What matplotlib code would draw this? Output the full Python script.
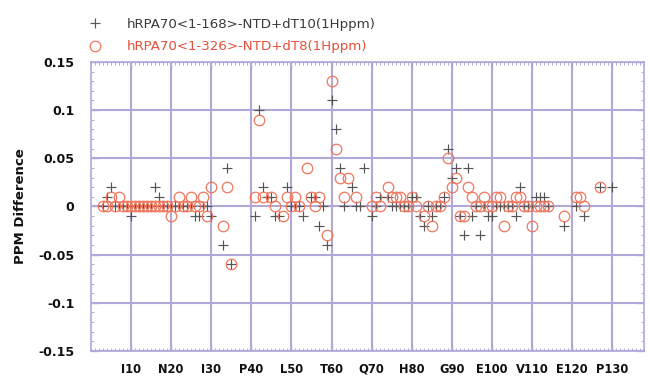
import matplotlib
matplotlib.use("Agg")
import matplotlib.pyplot as plt
from matplotlib.ticker import MultipleLocator

# hRPA70<1-168>-NTD + dT10 (crosses)
residue_a = [3, 4, 5, 6, 7, 8, 9, 10, 11, 12, 13, 14, 15, 16, 17, 18, 19, 20,
             21, 22, 23, 24, 25, 26, 27, 28, 29, 30, 33, 34, 35, 41, 42, 43,
             44, 45, 46, 47, 49, 50, 51, 52, 53, 55, 56, 57, 58, 59, 60, 61,
             62, 63, 65, 66, 67, 68, 70, 71, 72, 74, 75, 76, 77, 78, 79, 80,
             81, 82, 83, 84, 85, 86, 87, 88, 89, 90, 91, 92, 93, 94, 95, 96,
             97, 98, 99, 100, 101, 102, 103, 104, 105, 106, 107, 108, 109,
             110, 111, 112, 113, 114, 118, 121, 123, 127, 130]
shift_a = [0, 0.01, 0.02, 0, 0, 0, 0, -0.01, 0, 0, 0, 0, 0, 0.02, 0.01, 0, 0, 0,
           0, 0, 0, 0, 0, -0.01, -0.01, 0, 0, -0.01, -0.04, 0.04, -0.06, -0.01,
           0.10, 0.02, 0.01, 0.01, -0.01, -0.01, 0.02, 0, 0, 0, -0.01, 0.01,
           0.01, -0.02, 0, -0.04, 0.11, 0.08, 0.04, 0, 0.02, 0, 0, 0.04, -0.01,
           0, 0.01, 0.01, 0, 0, 0, 0, 0, 0.01, 0.01, -0.01, -0.02, 0, -0.01, 0,
           0, 0.01, 0.06, 0.03, 0.04, -0.01, -0.03, 0.04, -0.01, 0, -0.03, 0,
           -0.01, -0.01, 0, 0, 0, 0, 0, -0.01, 0.02, 0, 0, 0, 0.01, 0.01, 0.01,
           0, -0.02, 0, -0.01, 0.02, 0.02]

# hRPA70<1-326>-NTD + dT8 (circles)
residue_b = [3, 4, 5, 6, 7, 8, 9, 10, 11, 12, 13, 14, 15, 16, 17, 18, 19, 20,
             21, 22, 23, 24, 25, 26, 27, 28, 29, 30, 33, 34, 35, 41, 42, 43,
             45, 46, 48, 49, 50, 51, 52, 54, 55, 56, 57, 59, 60, 61, 62, 63,
             64, 66, 70, 71, 72, 74, 75, 76, 77, 78, 79, 80, 81, 83, 84, 85,
             86, 87, 88, 89, 90, 91, 92, 93, 94, 95, 96, 97, 98, 99, 100, 101,
             102, 103, 104, 105, 106, 107, 108, 109, 110, 111, 112, 113, 114,
             118, 121, 122, 123, 127]
shift_b = [0, 0, 0.01, 0, 0.01, 0, 0, 0, 0, 0, 0, 0, 0, 0, 0, 0, 0, -0.01,
           0, 0.01, 0, 0, 0.01, 0, 0, 0.01, -0.01, 0.02, -0.02, 0.02, -0.06,
           0.01, 0.09, 0.01, 0.01, 0, -0.01, 0.01, 0, 0.01, 0, 0.04, 0.01, 0,
           0.01, -0.03, 0.13, 0.06, 0.03, 0.01, 0.03, 0.01, 0, 0.01, 0, 0.02,
           0.01, 0.01, 0.01, 0, 0, 0.01, 0, -0.01, 0, -0.02, 0, 0, 0.01, 0.05,
           0.02, 0.03, -0.01, -0.01, 0.02, 0.01, 0, 0, 0.01, 0, 0, 0.01, 0.01,
           -0.02, 0, 0, 0.01, 0.01, 0, 0, -0.02, 0, 0, 0, 0, -0.01, 0.01, 0.01,
           0, 0.02]

label_a = "hRPA70<1-168>-NTD+dT10(1Hppm)"
label_b = "hRPA70<1-326>-NTD+dT8(1Hppm)"

x_ticks = [10, 20, 30, 40, 50, 60, 70, 80, 90, 100, 110, 120, 130]
x_labels = ["I10", "N20", "I30", "P40", "L50", "T60", "Q70", "H80", "G90",
            "E100", "V110", "E120", "P130"]
y_ticks = [-0.15, -0.1, -0.05, 0, 0.05, 0.1, 0.15]
y_labels = ["-0.15", "-0.1", "-0.05", "0", "0.05", "0.1", "0.15"]

GRID = "#b0a8d8"
CROSS = "#555555"
CIRCLE = "#f0765c"
RED_TXT = "#e4503a"

fig = plt.figure(figsize=(6.5, 3.79), dpi=100)
fig.patch.set_facecolor("white")
ax = fig.add_axes([0.14, 0.074, 0.851, 0.7625])

h_a, = ax.plot(residue_a, shift_a, linestyle="none", marker="+", ms=6.8,
               mew=0.85, color=CROSS, label=label_a, zorder=3)
h_b, = ax.plot(residue_b, shift_b, linestyle="none", marker="o", ms=7.6,
               mew=0.9, mfc="none", mec=CIRCLE, label=label_b, zorder=4)

ax.set_xlim(0, 138)
ax.set_ylim(-0.15, 0.15)
ax.set_xticks(x_ticks, labels=x_labels)
ax.set_yticks(y_ticks, labels=y_labels)
ax.xaxis.set_minor_locator(MultipleLocator(1))
ax.yaxis.set_minor_locator(MultipleLocator(0.01))

ax.grid(which="major", color=GRID, lw=1.5)
ax.set_axisbelow(True)
for sp in ax.spines.values():
    sp.set_color(GRID)
    sp.set_linewidth(1.2)

ax.tick_params(which="both", direction="in", top=True, right=True, color=GRID)
ax.tick_params(which="major", length=5, width=1)
ax.tick_params(which="minor", length=2.5, width=0.7)
ax.tick_params(axis="y", pad=12, labelsize=9)
ax.tick_params(axis="x", pad=8.5, labelsize=8.3)
for lab in ax.get_xticklabels() + ax.get_yticklabels():
    lab.set_fontweight("bold")
    lab.set_color("#111111")

ax.set_ylabel("PPM Difference", fontsize=9.5, fontweight="bold", color="#111111")
ax.yaxis.set_label_coords(-0.115, 0.5)

leg = ax.legend(handles=[h_a, h_b], loc="lower left", bbox_to_anchor=(-0.006, 1.03),
                frameon=False, fontsize=9.6, handlelength=1.1, handletextpad=1.8,
                labelspacing=0.7, borderaxespad=0, borderpad=0)
texts = leg.get_texts()
texts[0].set_color("#3a3a3a")
texts[1].set_color(RED_TXT)

fig.savefig("out.png", dpi=100, facecolor="white")
